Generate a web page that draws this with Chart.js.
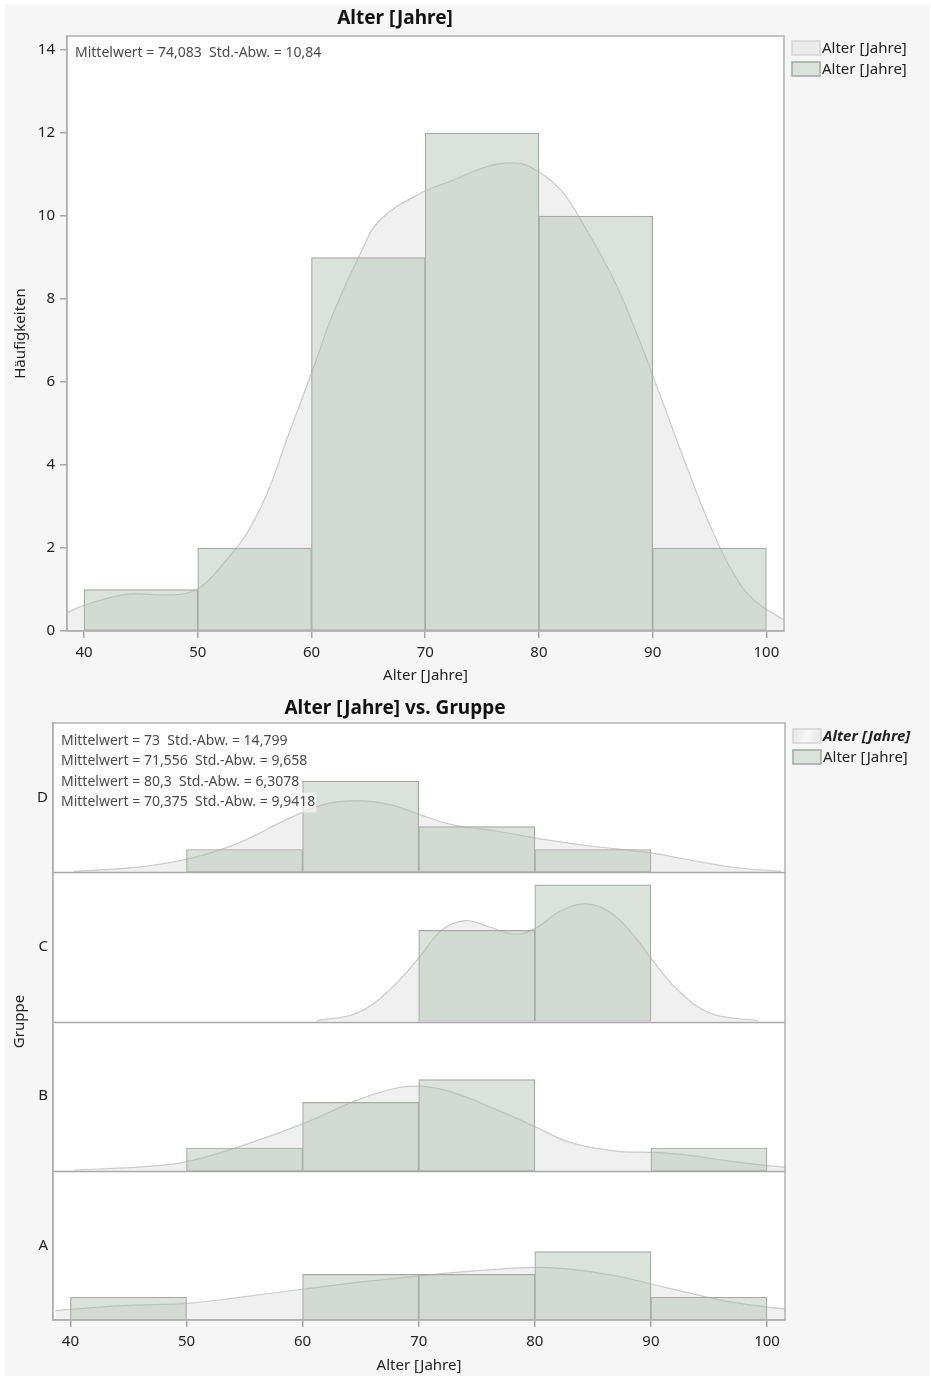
<!DOCTYPE html>
<html>
<head>
<meta charset="utf-8">
<title>Alter [Jahre]</title>
<script src="https://cdn.jsdelivr.net/npm/chart.js@4/dist/chart.umd.min.js"></script>
<style>
  html, body { margin: 0; padding: 0; background: #ffffff; }
  #frame { position: absolute; left: 5px; top: 4px; width: 924px; height: 1372px; background: #f6f6f6; }
  #topChart { position: absolute; left: 0; top: 0; }
  #groupChart { position: absolute; left: 0; top: 690px; }
</style>
</head>
<body>
<div id="frame"></div>
<canvas id="topChart" width="931" height="690" style="width:931px;height:690px"></canvas>
<canvas id="groupChart" width="931" height="688" style="width:931px;height:688px"></canvas>
<script>
// ---- histogram bins and axis ticks ----
const binStarts = [40, 50, 60, 70, 80, 90];
const binWidth = 10;
const xTicks = [40, 50, 60, 70, 80, 90, 100];
const yTicks = [0, 2, 4, 6, 8, 10, 12, 14];
const xMin = 38.5;
const xMax = 101.55;
const yMaxAll = 14.34;
const panelMax = 6.55;

// ---- all patients ----
const countsAll = [1, 2, 9, 12, 10, 2];
const densAllX = [38.5, 40.1, 43.8, 46.7, 49.0, 50.5, 52.5, 54.3, 56.1, 57.8, 60.1, 61.9, 64.3, 66.0, 69.6, 72.5, 75.4, 77.5, 79.2, 81.9, 84.2, 86.6, 88.6, 90.7, 93.0, 95.1, 97.1, 98.9, 101.5];
const densAllY = [0.44, 0.63, 0.89, 0.87, 0.91, 1.11, 1.71, 2.35, 3.32, 4.6, 6.29, 7.65, 9.1, 9.9, 10.55, 10.87, 11.19, 11.28, 11.19, 10.63, 9.66, 8.46, 7.17, 5.65, 3.96, 2.51, 1.39, 0.75, 0.27];
const meanAll = '74,083';
const sdAll = '10,84';

// ---- per group (panels top to bottom) ----
const groups = ['D', 'C', 'B', 'A'];
const countsD = [0, 1, 4, 2, 1, 0];
const countsC = [0, 0, 0, 4, 6, 0];
const countsB = [0, 1, 3, 4, 0, 1];
const countsA = [1, 0, 2, 2, 3, 1];
const densDX = [40.3, 46.4, 50.5, 54.5, 58.6, 61.8, 64.7, 67.5, 70.1, 72.8, 76.8, 80.9, 85.0, 90.0, 93.1, 97.1, 101.2];
const densDY = [0.04, 0.26, 0.63, 1.29, 2.31, 2.97, 3.14, 2.97, 2.53, 2.10, 1.80, 1.43, 1.14, 0.85, 0.56, 0.22, 0.04];
const densCX = [61.2, 64.7, 67.5, 70.1, 72.0, 74.0, 76.0, 78.3, 80.1, 82.1, 84.4, 86.6, 88.6, 90.0, 92.3, 95.1, 99.2];
const densCY = [0.04, 0.37, 1.39, 2.85, 4.02, 4.43, 4.17, 3.83, 4.10, 4.82, 5.16, 4.75, 3.73, 2.78, 1.39, 0.37, 0.04];
const densBX = [40.3, 46.4, 50.05, 54.5, 60.1, 64.7, 67.9, 70.1, 72.8, 76.8, 80.05, 82.9, 87.0, 90.0, 93.1, 97.1, 101.55];
const densBY = [0.03, 0.18, 0.40, 1.05, 2.08, 3.10, 3.61, 3.71, 3.46, 2.66, 1.93, 1.27, 0.86, 0.81, 0.69, 0.40, 0.15];
const densAX = [38.7, 44.4, 50.05, 54.5, 60.1, 64.7, 70.1, 74.8, 80.05, 82.9, 87.0, 90.0, 94.3, 97.1, 101.55];
const densAY = [0.41, 0.63, 0.73, 0.99, 1.36, 1.65, 1.94, 2.16, 2.31, 2.24, 1.94, 1.58, 1.07, 0.77, 0.48];
// summary lines, listed for groups A, B, C, D
const groupMeans = ['73', '71,556', '80,3', '70,375'];
const groupSds = ['14,799', '9,658', '6,3078', '9,9418'];

// ---- styling ----
const FONT = "'Noto Sans', 'Open Sans', sans-serif";
const BAR_FILL = '#dbe2db';
const BAR_LINE = '#a2a8a2';
const CURVE_FILL = 'rgba(180,186,180,0.22)';
const CURVE_LINE = 'rgba(170,176,170,0.6)';
const AXIS = '#a8a8a8';
const TEXT = '#222222';

Chart.defaults.font.family = FONT;
Chart.defaults.color = TEXT;

function barPoints(counts) {
  return binStarts.map((s, i) => ({ x: s + binWidth / 2, y: counts[i] > 0 ? counts[i] : null }));
}
function curvePoints(xs, ys) {
  return xs.map((x, i) => ({ x: x, y: ys[i] }));
}
function barSet(counts, yAxisID) {
  return {
    type: 'bar', data: barPoints(counts), yAxisID: yAxisID,
    backgroundColor: BAR_FILL, borderColor: BAR_LINE, borderWidth: 1.2, borderSkipped: false,
    barPercentage: 1, categoryPercentage: 1, grouped: false, order: 2
  };
}
function curveSet(xs, ys, yAxisID) {
  return {
    type: 'line', data: curvePoints(xs, ys), yAxisID: yAxisID,
    fill: 'origin', backgroundColor: CURVE_FILL, borderColor: CURVE_LINE, borderWidth: 1.2,
    pointRadius: 0, tension: 0.4, order: 1
  };
}

function xScale(height) {
  return {
    type: 'linear', min: xMin, max: xMax, offset: false,
    afterBuildTicks: s => { s.ticks = xTicks.map(v => ({ value: v })); },
    afterFit: s => { s.height = height; },
    grid: { display: true, offset: false, drawOnChartArea: false, drawTicks: true, tickLength: 7, color: AXIS, lineWidth: 1.5 },
    border: { display: true, color: AXIS, width: 1.5 },
    ticks: { autoSkip: false, maxRotation: 0, padding: 6, font: { size: 15 }, color: TEXT },
    title: { display: true, text: 'Alter [Jahre]', font: { size: 15 }, color: TEXT, padding: { top: 0, bottom: 3 } }
  };
}

// frame, separators, summary text, legend and titles drawn on the canvas
function decorations(cfg) {
  return {
    id: 'decor_' + cfg.name,
    beforeDraw(chart) {
      const a = chart.chartArea, ctx = chart.ctx;
      ctx.save();
      ctx.fillStyle = '#ffffff';
      ctx.fillRect(a.left, a.top, a.right - a.left, a.bottom - a.top);
      ctx.restore();
    },
    afterDraw(chart) {
      const a = chart.chartArea, ctx = chart.ctx;
      ctx.save();
      // panel separators
      ctx.strokeStyle = AXIS;
      ctx.lineWidth = 1.5;
      (cfg.panelAxes || []).forEach(id => {
        const sc = chart.scales[id];
        if (sc.bottom < a.bottom - 1) {
          ctx.beginPath();
          ctx.moveTo(a.left, Math.round(sc.bottom) + 0.5);
          ctx.lineTo(a.right, Math.round(sc.bottom) + 0.5);
          ctx.stroke();
        }
      });
      // plot frame
      ctx.strokeStyle = '#b2b2b2';
      ctx.strokeRect(a.left, a.top, a.right - a.left, a.bottom - a.top);

      // summary lines
      ctx.font = '14px ' + FONT;
      ctx.textBaseline = 'middle';
      ctx.textAlign = 'left';
      cfg.stats.forEach((line, i) => {
        const x = a.left + cfg.statsDx;
        const y = a.top + cfg.statsDy + i * cfg.statsStep;
        const w = ctx.measureText(line).width;
        ctx.fillStyle = 'rgba(255,255,255,0.6)';
        ctx.fillRect(x - 1, y - 10, w + 2, 20);
        ctx.fillStyle = '#4a4a4a';
        ctx.fillText(line, x, y);
      });

      // legend
      const lx = a.right + 8;
      cfg.legend.forEach((item, i) => {
        const y = a.top + cfg.legendDy + i * 21;
        if (item.kind === 'curve') {
          if (cfg.gradientSwatch) {
            const g = ctx.createLinearGradient(lx, y - 7, lx + 28, y + 7);
            g.addColorStop(0, '#e4e4e4');
            g.addColorStop(0.5, '#f7f7f7');
            g.addColorStop(1, '#e4e4e4');
            ctx.fillStyle = g;
          } else {
            ctx.fillStyle = '#ebebeb';
          }
          ctx.strokeStyle = '#d4d4d4';
        } else {
          ctx.fillStyle = BAR_FILL;
          ctx.strokeStyle = BAR_LINE;
        }
        ctx.lineWidth = 1.5;
        ctx.fillRect(lx, y - 7, 28, 14);
        ctx.strokeRect(lx, y - 7, 28, 14);
        ctx.fillStyle = TEXT;
        ctx.font = (item.emph ? 'italic bold ' : '') + '15px ' + FONT;
        ctx.textAlign = 'left';
        ctx.textBaseline = 'middle';
        ctx.fillText(item.text, lx + 30, y + 1);
      });

      // chart title
      ctx.font = 'bold 19px ' + FONT;
      ctx.textAlign = 'center';
      ctx.textBaseline = 'middle';
      ctx.fillStyle = '#111111';
      ctx.fillText(cfg.title, cfg.titleX, cfg.titleY);

      // shared vertical title for stacked panels
      if (cfg.yTitle) {
        ctx.translate(20, (a.top + a.bottom) / 2);
        ctx.rotate(-Math.PI / 2);
        ctx.font = '15px ' + FONT;
        ctx.fillStyle = TEXT;
        ctx.fillText(cfg.yTitle, 0, 0);
      }
      ctx.restore();
    }
  };
}

// ---- overall histogram ----
new Chart(document.getElementById('topChart'), {
  type: 'bar',
  data: {
    datasets: [
      curveSet(densAllX, densAllY, 'y'),
      barSet(countsAll, 'y')
    ]
  },
  options: {
    responsive: false,
    animation: false,
    layout: { padding: { left: 0, top: 36, right: 147, bottom: 2 } },
    plugins: { legend: { display: false }, tooltip: { enabled: false } },
    scales: {
      x: xScale(57),
      y: {
        type: 'linear', min: 0, max: yMaxAll,
        afterBuildTicks: s => { s.ticks = yTicks.map(v => ({ value: v })); },
        afterFit: s => { s.width = 67; },
        grid: { display: true, drawOnChartArea: false, drawTicks: true, tickLength: 7, color: AXIS, lineWidth: 1.5 },
        border: { display: true, color: AXIS, width: 1.5 },
        ticks: { padding: 5, font: { size: 15 }, color: TEXT },
        title: { display: true, text: 'Häufigkeiten', font: { size: 15 }, color: TEXT, padding: { top: 12, bottom: 0 } }
      }
    }
  },
  plugins: [decorations({
    name: 'all',
    stats: ['Mittelwert = ' + meanAll + '  Std.-Abw. = ' + sdAll],
    statsDx: 8, statsDy: 17, statsStep: 20.5,
    legend: [{ kind: 'curve', text: 'Alter [Jahre]' }, { kind: 'bar', text: 'Alter [Jahre]' }],
    legendDy: 12,
    title: 'Alter [Jahre]', titleX: 395, titleY: 19
  })]
});

// ---- histogram per group, stacked panels ----
const panelCounts = [countsD, countsC, countsB, countsA];
const panelDensX = [densDX, densCX, densBX, densAX];
const panelDensY = [densDY, densCY, densBY, densAY];
const panelIds = groups.map(g => 'y' + g);

const groupScales = { x: xScale(58) };
groups.forEach((g, i) => {
  groupScales[panelIds[i]] = {
    type: 'linear', position: 'left', stack: 'gruppe', stackWeight: 1, weight: groups.length - i,
    min: 0, max: panelMax,
    afterBuildTicks: s => { s.ticks = [{ value: panelMax / 2 }]; },
    afterFit: s => { s.width = 53; },
    grid: { display: false, drawTicks: false },
    border: { display: true, color: AXIS, width: 1.5 },
    ticks: { padding: 5, font: { size: 15 }, color: TEXT, callback: () => g }
  };
});

const groupDatasets = [];
groups.forEach((g, i) => {
  groupDatasets.push(curveSet(panelDensX[i], panelDensY[i], panelIds[i]));
  groupDatasets.push(barSet(panelCounts[i], panelIds[i]));
});

new Chart(document.getElementById('groupChart'), {
  type: 'bar',
  data: { datasets: groupDatasets },
  options: {
    responsive: false,
    animation: false,
    layout: { padding: { left: 0, top: 33, right: 146, bottom: 0 } },
    plugins: { legend: { display: false }, tooltip: { enabled: false } },
    scales: groupScales
  },
  plugins: [decorations({
    name: 'groups',
    panelAxes: panelIds,
    stats: groupMeans.map((m, i) => 'Mittelwert = ' + m + '  Std.-Abw. = ' + groupSds[i]),
    statsDx: 8, statsDy: 18, statsStep: 20.5,
    legend: [{ kind: 'curve', text: 'Alter [Jahre]', emph: true }, { kind: 'bar', text: 'Alter [Jahre]' }],
    legendDy: 13,
    gradientSwatch: true,
    title: 'Alter [Jahre] vs. Gruppe', titleX: 395, titleY: 18.5,
    yTitle: 'Gruppe'
  })]
});
</script>
</body>
</html>
